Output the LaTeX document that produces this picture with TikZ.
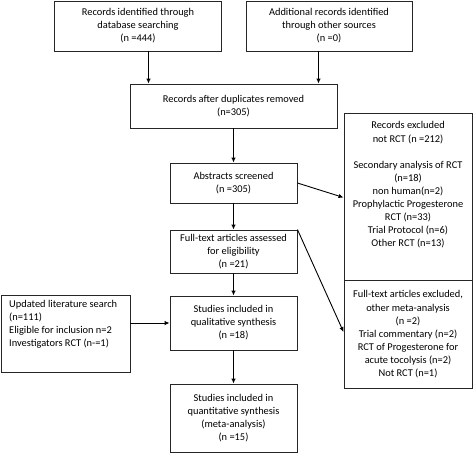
\documentclass[tikz,border=0pt]{standalone}
\usepackage{fontspec}
\setmainfont{Carlito}
\usetikzlibrary{arrows.meta}
\newcommand{\boxfont}{\fontsize{10.4}{13.1}\selectfont}
\tikzset{
  box/.style={draw=black!85, line width=0.9pt, inner sep=0pt, font=\boxfont, align=center},
  txt/.style={inner sep=0pt, font=\boxfont},
  arr/.style={draw=black, line width=0.9pt, -{Latex[length=5pt,width=4.5pt]}}
}
\begin{document}
\begin{tikzpicture}[x=1pt,y=-1pt]
\useasboundingbox (0,0) rectangle (473,453);
\node[box, minimum width=167pt, minimum height=50pt] (rec1) at (138,26) {Records identified through\\database searching\\(n =444)};
\node[box, minimum width=166pt, minimum height=50pt] (rec2) at (329,26) {Additional records identified\\through other sources\\(n =0)};
\node[box, minimum width=207pt, minimum height=44pt] (dup) at (233.5,106) {Records after duplicates removed\\(n=305)};
\node[box, minimum width=127pt, minimum height=40pt] (abs) at (233.5,183) {Abstracts screened\\(n =305)};
\node[box, minimum width=127pt, minimum height=43pt] (full) at (233.5,251.5) {Full-text articles assessed\\for eligibility\\(n =21)};
\node[box, minimum width=127pt, minimum height=54pt] (qual) at (233.5,323) {Studies included in\\qualitative synthesis\\(n =18)};
\node[box, minimum width=127pt, minimum height=68pt] (quant) at (233.5,418) {Studies included in\\quantitative synthesis\\(meta-analysis)\\(n =15)};
\node[box, minimum width=129pt, minimum height=77pt] (upd) at (65.5,333.5) {};
\node[txt, anchor=north west, align=left] (updt) at (9,300) {Updated literature search\\(n=111)\\Eligible for inclusion n=2\\Investigators RCT (n-=1)};
\node[box, minimum width=128pt, minimum height=167pt] (ex1) at (408,196.5) {};
\node[txt, anchor=north, align=center] (ex1t) at (408,121.5) {Records excluded\\not RCT (n =212)\\[13.1pt]Secondary analysis of RCT\\(n=18)\\non human(n=2)\\Prophylactic Progesterone\\RCT (n=33)\\Trial Protocol (n=6)\\Other RCT (n=13)};
\node[box, minimum width=128pt, minimum height=108pt] (ex2) at (408,334) {};
\node[txt, anchor=north, align=center] (ex2t) at (408,290.5) {Full-text articles excluded,\\other meta-analysis\\(n =2)\\Trial commentary (n=2)\\RCT of Progesterone for\\acute tocolysis (n=2)\\Not RCT (n=1)};
\draw[arr] ([xshift=10.5pt]rec1.south) -- ([xshift=10.5pt]rec1.south |- dup.north);
\draw[arr] ([xshift=-10.5pt]rec2.south) -- ([xshift=-10.5pt]rec2.south |- dup.north);
\draw[arr] (dup.south) -- (abs.north);
\draw[arr] (abs.east) -- ([yshift=-1pt]ex1.west);
\draw[arr] (abs.south) -- (full.north);
\draw[arr] (full.north east) -- ([yshift=2pt]ex2.west);
\draw[arr] (full.south) -- (qual.north);
\draw[arr] (upd.east |- qual.west) -- (qual.west);
\draw[arr] (qual.south) -- (quant.north);
\end{tikzpicture}
\end{document}
